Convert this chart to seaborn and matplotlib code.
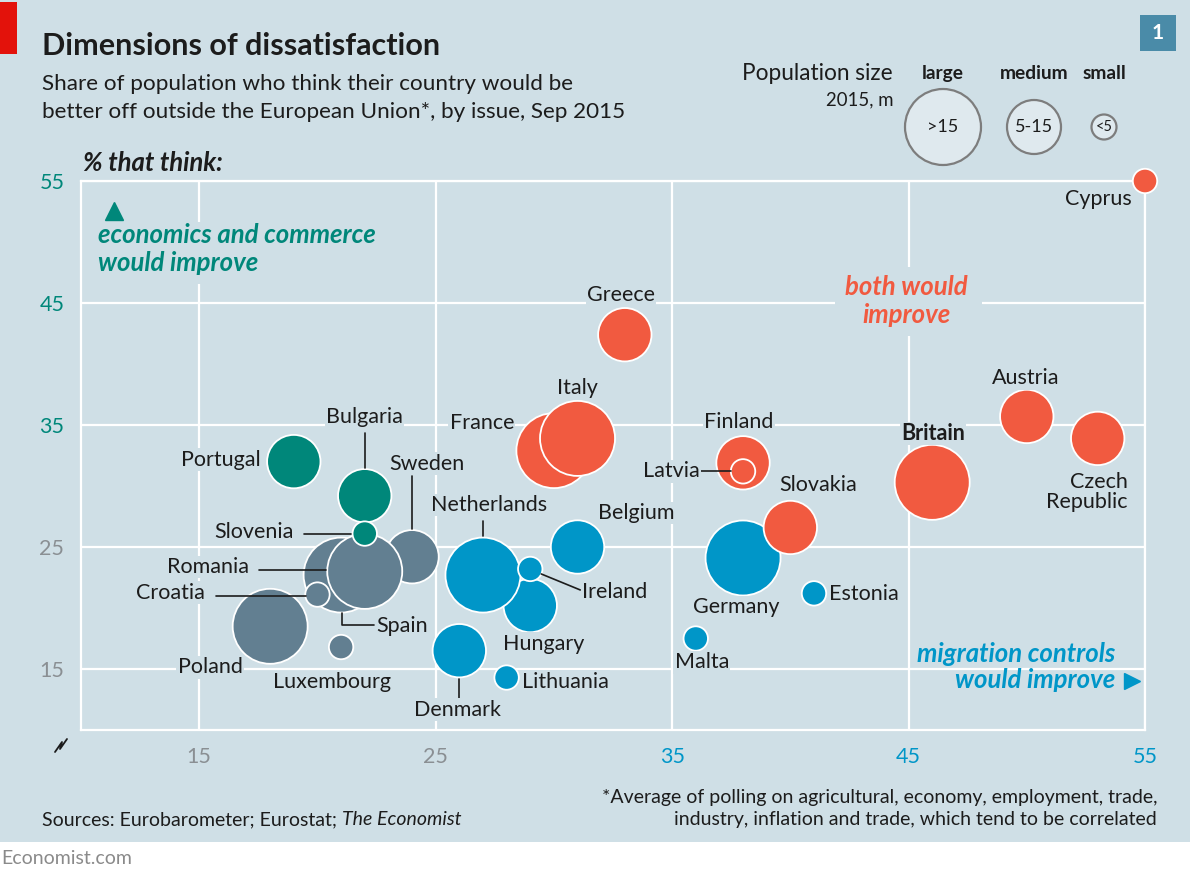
import matplotlib
matplotlib.use("Agg")
import matplotlib.pyplot as plt
from matplotlib.patches import Rectangle, Ellipse
from matplotlib.lines import Line2D
from matplotlib.transforms import Affine2D
import seaborn as sns
import pandas as pd

# ---------------- data ----------------
countries = ["Cyprus", "Greece", "France", "Italy", "Finland", "Latvia", "Germany", "Slovakia",
             "Estonia", "Malta", "Belgium", "Hungary", "Netherlands", "Ireland", "Denmark",
             "Lithuania", "Portugal", "Bulgaria", "Sweden", "Romania", "Spain", "Slovenia",
             "Croatia", "Poland", "Luxembourg", "Britain", "Austria", "Czech Republic"]
migration = [55, 33, 30, 31, 38, 38, 38, 40, 41, 36, 31, 29, 27, 29, 26, 28,
             19, 22, 24, 21, 22, 22, 20, 18, 21, 46, 50, 53]
economics = [55, 42.4, 32.9, 33.9, 31.9, 31.2, 24.1, 26.6, 21.2, 17.5, 25.0, 20.2, 22.7, 23.2,
             16.5, 14.3, 32.0, 29.2, 24.2, 22.7, 23.0, 26.1, 21.1, 18.5, 16.8, 30.3, 35.7, 33.9]
population = ["small", "medium", "large", "large", "medium", "small", "large", "medium",
              "small", "small", "medium", "medium", "large", "small", "medium", "small",
              "medium", "medium", "medium", "large", "large", "small", "small", "large",
              "small", "large", "medium", "medium"]
group = ["both", "both", "both", "both", "both", "both", "migration", "both",
         "migration", "migration", "migration", "migration", "migration", "migration", "migration",
         "migration", "economics", "economics", "neither", "neither", "neither", "economics",
         "neither", "neither", "neither", "both", "both", "both"]

ticks = [15, 25, 35, 45, 55]
x_tick_colors = ["#8a8f93", "#8a8f93", "#0096c8", "#0096c8", "#0096c8"]
y_tick_colors = ["#8a8f93", "#8a8f93", "#00877a", "#00877a", "#00877a"]

df = pd.DataFrame({"country": countries, "migration": migration, "economics": economics,
                   "population": population, "group": group})

# ---------------- style ----------------
BG = "#cfdfe6"
TXT = "#1c1c1c"
palette = {"economics": "#00877a", "neither": "#627f91", "migration": "#0096c8", "both": "#f15a40"}
sizes = {"large": 2916, "medium": 1478, "small": 309}

sns.set_style("white")
plt.rcParams["font.family"] = ["Lato", "DejaVu Sans"]

W, H = 1190, 874
fig = plt.figure(figsize=(W / 100, H / 100), dpi=100, facecolor=BG)


def fx(x):
    return x / W


def fy(y):
    return 1 - y / H


ax = fig.add_axes([fx(81), fy(730), (1145 - 81) / W, (730 - 181) / H])
ax.set_facecolor(BG)
ax.set_xlim(10, 55)
ax.set_ylim(10, 55)

sns.scatterplot(data=df, x="migration", y="economics", hue="group", size="population",
                sizes=sizes, palette=palette, edgecolor="white", linewidth=1.3,
                legend=False, ax=ax, clip_on=False, zorder=3, alpha=1)

ax.set_xticks(ticks)
ax.set_yticks(ticks)
ax.grid(True, color="white", linewidth=1.6, zorder=0)
ax.set_axisbelow(True)
for s in ax.spines.values():
    s.set_color("white")
    s.set_linewidth(1.6)
    s.set_zorder(0.5)
ax.tick_params(length=0, labelsize=15.5, pad=12)
ax.set_xlabel("")
ax.set_ylabel("")
for lab, c in zip(ax.get_xticklabels(), x_tick_colors):
    lab.set_color(c)
for lab, c in zip(ax.get_yticklabels(), y_tick_colors):
    lab.set_color(c)

# ---------------- labels ----------------
# name: (dx, dy [pixels, up positive], ha, leader pixel offsets, bold)
layout = {
    "Cyprus": (-13, -18, "right", None, False),
    "Greece": (-4, 40, "center", None, False),
    "Italy": (0, 50, "center", None, False),
    "France": (-72, 28, "center", None, False),
    "Finland": (-4, 41, "center", None, False),
    "Latvia": (-43, 0, "right", [(-42, 0), (-12, 0)], False),
    "Slovakia": (28, 42, "center", None, False),
    "Germany": (-7, -49, "center", None, False),
    "Estonia": (15, -1, "left", None, False),
    "Malta": (6, -24, "center", None, False),
    "Belgium": (59, 34, "center", None, False),
    "Netherlands": (6, 70, "center", [(0, 54), (0, 39)], False),
    "Ireland": (52, -23, "left", [(11, -5), (50, -21)], False),
    "Hungary": (13, -38, "center", None, False),
    "Denmark": (-2, -59, "center", [(0, -28), (0, -49)], False),
    "Lithuania": (15, -4, "left", None, False),
    "Portugal": (-33, 2, "right", None, False),
    "Bulgaria": (0, 79, "center", [(0, 63), (0, 28)], False),
    "Sweden": (15, 93, "center", [(0, 81), (0, 28)], False),
    "Slovenia": (-71, 2, "right", [(-61, 0), (-14, 0)], False),
    "Romania": (-92, 8, "right", [(-82, 5), (-15, 5)], False),
    "Croatia": (-113, 2, "right", [(-101, -1), (-11, -1)], False),
    "Spain": (12, -55, "left", [(-23, -42), (-23, -54), (9, -54)], False),
    "Poland": (-60, -41, "center", None, False),
    "Luxembourg": (-9, -35, "center", None, False),
    "Britain": (1, 49, "center", None, True),
    "Austria": (-1, 38, "center", None, False),
    "Czech Republic": (30, -54, "right", None, False),
}

fig.canvas.draw()
for name, xv, yv in zip(countries, migration, economics):
    dx, dy, ha, leader, bold = layout[name]
    text = "Czech\nRepublic" if name == "Czech Republic" else name
    ax.annotate(text, xy=(xv, yv), xytext=(dx, dy), textcoords="offset pixels",
                ha=ha, va="center", multialignment=ha if ha != "center" else "center",
                fontsize=15.5, color=TXT, fontweight="bold" if bold else "normal",
                zorder=6, annotation_clip=False, linespacing=1.0,
                bbox=dict(boxstyle="square,pad=0.06", fc=BG, ec="none"))
    if leader:
        px, py = ax.transData.transform((xv, yv))
        ax.add_line(Line2D([p[0] for p in leader], [p[1] for p in leader],
                           transform=Affine2D().translate(px, py), color=TXT,
                           linewidth=1.2, zorder=5, clip_on=False))

# ---------------- quadrant notes ----------------
TEAL, RED, BLUE = palette["economics"], palette["both"], palette["migration"]
QS = 18.5
fig.add_artist(Line2D([fx(114)], [fy(211)], marker="^", markersize=12.5, color=TEAL,
                      linestyle="none", transform=fig.transFigure))
fig.add_artist(Rectangle((fx(92), fy(284)), (385 - 92) / W, (284 - 222) / H,
                         transform=fig.transFigure, fc=BG, ec="none", zorder=1))
fig.text(fx(98), fy(243), "economics and commerce", color=TEAL, fontsize=QS,
         fontweight="bold", style="italic", ha="left", va="baseline", zorder=2)
fig.text(fx(98), fy(271), "would improve", color=TEAL, fontsize=QS,
         fontweight="bold", style="italic", ha="left", va="baseline", zorder=2)

fig.add_artist(Rectangle((fx(835), fy(336)), (982 - 835) / W, (336 - 267) / H,
                         transform=fig.transFigure, fc=BG, ec="none", zorder=1))
fig.text(fx(906), fy(295), "both would", color=RED, fontsize=QS, fontweight="bold",
         style="italic", ha="center", va="baseline", zorder=2)
fig.text(fx(906), fy(323), "improve", color=RED, fontsize=QS, fontweight="bold",
         style="italic", ha="center", va="baseline", zorder=2)

fig.text(fx(1115), fy(662), "migration controls", color=BLUE, fontsize=QS,
         fontweight="bold", style="italic", ha="right", va="baseline", zorder=2)
fig.text(fx(1115), fy(688), "would improve", color=BLUE, fontsize=QS,
         fontweight="bold", style="italic", ha="right", va="baseline", zorder=2)
fig.add_artist(Line2D([fx(1132)], [fy(681)], marker=">", markersize=11.5, color=BLUE,
                      linestyle="none", transform=fig.transFigure))

# ---------------- header ----------------
fig.add_artist(Rectangle((0, fy(54)), fx(17), (54 - 2) / H, transform=fig.transFigure,
                         fc="#e3120b", ec="none"))
fig.text(fx(42), fy(55), "Dimensions of dissatisfaction", fontsize=22, fontweight="bold",
         color=TXT, ha="left", va="baseline")
fig.text(fx(42), fy(90), "Share of population who think their country would be",
         fontsize=16.2, color=TXT, ha="left", va="baseline")
fig.text(fx(42), fy(118), "better off outside the European Union*, by issue, Sep 2015",
         fontsize=16.2, color=TXT, ha="left", va="baseline")
fig.text(fx(83), fy(171), "% that think:", fontsize=18.5, fontweight="bold", style="italic",
         color=TXT, ha="left", va="baseline")

fig.add_artist(Rectangle((fx(1140), fy(51)), (1176 - 1140) / W, (51 - 15) / H,
                         transform=fig.transFigure, fc="#4a8ba8", ec="none"))
fig.text(fx(1158), fy(33), "1", fontsize=15, fontweight="bold", color="white",
         ha="center", va="center")

# population legend
fig.text(fx(893), fy(80), "Population size", fontsize=16.3, color=TXT, ha="right",
         va="baseline")
fig.text(fx(893), fy(105), "2015, m", fontsize=13.4, color=TXT, ha="right", va="baseline")
for cx, r, head, inner in [(943, 38, "large", ">15"), (1034, 27, "medium", "5-15"),
                           (1104, 12.5, "small", "<5")]:
    fig.text(fx(cx), fy(79), head, fontsize=13.8, fontweight="bold", color=TXT,
             ha="center", va="baseline")
    fig.add_artist(Ellipse((fx(cx), fy(127)), 2 * r / W, 2 * r / H, transform=fig.transFigure,
                           fc="#dfe9ee", ec="#7d7d7d", lw=1.6))
    fig.text(fx(cx), fy(127), inner, fontsize=13 if r > 20 else 10.5, color=TXT,
             ha="center", va="center")

# axis-break zigzag
fig.add_artist(Line2D([fx(55), fx(62), fx(60), fx(67)], [fy(752), fy(742), fy(749), fy(739)],
                      transform=fig.transFigure, color=TXT, lw=1.3))

# ---------------- footer ----------------
FS = 14
t1 = fig.text(fx(42), fy(825), "Sources: Eurobarometer; Eurostat; ", fontsize=FS,
              color=TXT, ha="left", va="baseline")
r = fig.canvas.get_renderer()
bb = t1.get_window_extent(renderer=r)
fig.text(bb.x1 / W, fy(825), "The Economist", fontsize=FS, style="italic",
         color=TXT, ha="left", va="baseline")
fig.text(fx(1157), fy(803), "*Average of polling on agricultural, economy, employment, trade,",
         fontsize=FS, color=TXT, ha="right", va="baseline")
fig.text(fx(1157), fy(825), "industry, inflation and trade, which tend to be correlated",
         fontsize=FS, color=TXT, ha="right", va="baseline")

fig.add_artist(Rectangle((0, 0), 1, (874 - 842) / H, transform=fig.transFigure,
                         fc="white", ec="none"))
fig.text(fx(1), fy(858), "Economist.com", fontsize=14, color="#8a8a8a", ha="left",
         va="center")

fig.savefig("out.png", dpi=100, facecolor=BG)
